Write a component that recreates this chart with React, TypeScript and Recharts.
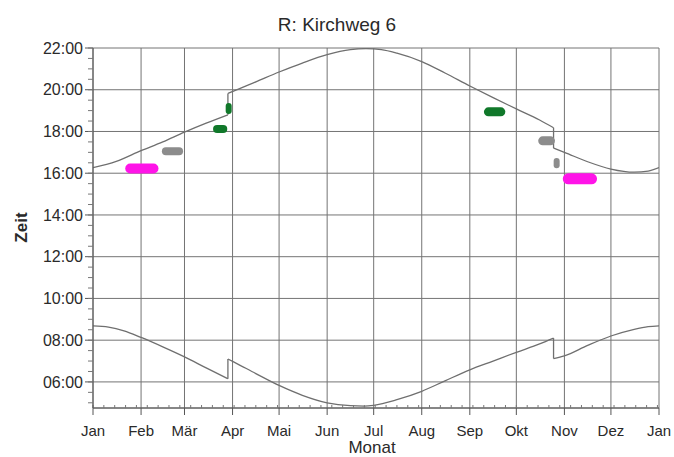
import React from "react";
import { ComposedChart, Line, XAxis, YAxis, CartesianGrid } from "recharts";

// day of year (0 = 1 Jan) / time in hours
const monthStarts = [0, 31, 59, 90, 120, 151, 181, 212, 243, 273, 304, 334, 365];
const monthLabels = ["Jan", "Feb", "Mär", "Apr", "Mai", "Jun", "Jul", "Aug", "Sep", "Okt", "Nov", "Dez", "Jan"];
const hourTicks = [6, 8, 10, 12, 14, 16, 18, 20, 22];

// sunrise, split at the clock changes
const sunriseWinter1 = [
  { d: 0, t: 8.69 }, { d: 10, t: 8.63 }, { d: 20, t: 8.45 }, { d: 31, t: 8.13 },
  { d: 45, t: 7.68 }, { d: 59, t: 7.2 }, { d: 73, t: 6.67 }, { d: 87, t: 6.15 },
];
const sunriseSummer = [
  { d: 87, t: 7.1 }, { d: 91, t: 6.95 }, { d: 105, t: 6.4 }, { d: 120, t: 5.83 },
  { d: 135, t: 5.36 }, { d: 151, t: 5.0 }, { d: 166, t: 4.86 }, { d: 175, t: 4.84 },
  { d: 181, t: 4.88 }, { d: 196, t: 5.15 }, { d: 212, t: 5.55 }, { d: 227, t: 6.05 },
  { d: 243, t: 6.58 }, { d: 258, t: 7.0 }, { d: 273, t: 7.42 }, { d: 288, t: 7.82 },
  { d: 297, t: 8.1 },
];
const sunriseWinter2 = [
  { d: 297, t: 7.12 }, { d: 304, t: 7.25 }, { d: 319, t: 7.75 }, { d: 334, t: 8.2 },
  { d: 349, t: 8.52 }, { d: 358, t: 8.65 }, { d: 365, t: 8.69 },
];

// sunset
const sunsetWinter1 = [
  { d: 0, t: 16.27 }, { d: 15, t: 16.57 }, { d: 31, t: 17.08 }, { d: 45, t: 17.5 },
  { d: 59, t: 17.97 }, { d: 73, t: 18.4 }, { d: 87, t: 18.8 },
];
const sunsetSummer = [
  { d: 87, t: 19.82 }, { d: 91, t: 19.95 }, { d: 105, t: 20.38 }, { d: 120, t: 20.85 },
  { d: 135, t: 21.28 }, { d: 151, t: 21.68 }, { d: 166, t: 21.92 }, { d: 176, t: 21.97 },
  { d: 186, t: 21.92 }, { d: 196, t: 21.75 }, { d: 212, t: 21.35 }, { d: 227, t: 20.8 },
  { d: 243, t: 20.18 }, { d: 258, t: 19.62 }, { d: 273, t: 19.08 }, { d: 288, t: 18.55 },
  { d: 297, t: 18.18 },
];
const sunsetWinter2 = [
  { d: 297, t: 17.2 }, { d: 304, t: 17.0 }, { d: 319, t: 16.55 }, { d: 334, t: 16.2 },
  { d: 349, t: 16.05 }, { d: 358, t: 16.1 }, { d: 365, t: 16.27 },
];

// shadow periods (start / end)
const shadowMagentaFeb = [{ d: 24, t: 16.23 }, { d: 39, t: 16.23 }];
const shadowGrayFeb = [{ d: 47, t: 17.05 }, { d: 55.5, t: 17.05 }];
const shadowGreenMar = [{ d: 80, t: 18.12 }, { d: 84, t: 18.12 }];
const shadowGreenApr = [{ d: 87.5, t: 18.98 }, { d: 87.5, t: 19.22 }];
const shadowGreenSep = [{ d: 255, t: 18.94 }, { d: 263, t: 18.94 }];
const shadowGrayOct = [{ d: 290, t: 17.55 }, { d: 295, t: 17.55 }];
const shadowGrayOct2 = [{ d: 299, t: 16.38 }, { d: 299, t: 16.58 }];
const shadowMagentaNov = [{ d: 306.5, t: 15.73 }, { d: 321.5, t: 15.73 }];

const MAGENTA = "#ff14e8";
const GRAY = "#8c8c8c";
const GREEN = "#10782a";
const CURVE = "#6f6f6f";
const FONT = "'Liberation Sans', Arial, sans-serif";

const blobs = [
  { data: shadowMagentaFeb, color: MAGENTA, w: 10 },
  { data: shadowGrayFeb, color: GRAY, w: 8 },
  { data: shadowGreenMar, color: GREEN, w: 8 },
  { data: shadowGreenApr, color: GREEN, w: 6 },
  { data: shadowGreenSep, color: GREEN, w: 9 },
  { data: shadowGrayOct, color: GRAY, w: 9 },
  { data: shadowGrayOct2, color: GRAY, w: 6 },
  { data: shadowMagentaNov, color: MAGENTA, w: 11 },
];

const curves = [
  [sunriseWinter1, sunriseSummer, sunriseWinter2],
  [sunsetWinter1, sunsetSummer, sunsetWinter2],
];

const weekTicks = Array.from({ length: 53 }, (_, i) => i * 7);
const halfHourTicks = Array.from({ length: 35 }, (_, i) => 5 + i * 0.5);

const fmtHour = (h: number) => `${String(h).padStart(2, "0")}:00`;
const blank = () => "";

// minor y ticks drawn by hand at the axis line (x = 93)
const MinorYTick = (props: any) => {
  const { y } = props;
  return <line x1={88} x2={93} y1={y} y2={y} stroke="#777" strokeWidth={1} />;
};

export default function App() {
  const segs: any[] = [];
  const jumps: any[] = [];
  curves.forEach((parts, ci) => {
    parts.forEach((p, pi) => {
      segs.push({ key: `c${ci}-${pi}`, data: p });
      if (pi > 0) {
        const prev = parts[pi - 1];
        jumps.push({ key: `j${ci}-${pi}`, data: [prev[prev.length - 1], p[0]] });
      }
    });
  });

  return (
    <div style={{ position: "absolute", left: 0, top: 0, width: 674, height: 457, background: "#fff", fontFamily: FONT }}>
      <div style={{ position: "absolute", left: 0, top: 15, width: 674, textAlign: "center", fontSize: 19, lineHeight: "19px", color: "#2a2a2a" }}>
        R: Kirchweg 6
      </div>
      <div style={{ position: "absolute", left: 272, top: 440, width: 200, textAlign: "center", fontSize: 17, lineHeight: "16px", color: "#2a2a2a" }}>
        Monat
      </div>
      <div
        style={{
          position: "absolute", left: 20.5 - 50, top: 227 - 8.5, width: 100, height: 17,
          textAlign: "center", fontSize: 17, lineHeight: "17px", fontWeight: "bold", color: "#2a2a2a",
          transform: "rotate(-90deg)",
        }}
      >
        Zeit
      </div>
      <ComposedChart width={674} height={457} margin={{ top: 48, right: 15, bottom: 19, left: 0 }}>
        <CartesianGrid stroke="#747474" strokeWidth={1} />
        <XAxis
          dataKey="d"
          type="number"
          domain={[0, 365]}
          ticks={monthStarts}
          interval={0}
          allowDataOverflow
          tickFormatter={(_v: number, i: number) => monthLabels[i]}
          height={30}
          tickSize={7}
          tickMargin={10}
          stroke="#555"
          tick={{ fontSize: 15, fill: "#2a2a2a", fontFamily: FONT }}
        />
        <XAxis
          xAxisId="minor"
          dataKey="d"
          type="number"
          domain={[0, 365]}
          ticks={weekTicks}
          interval={0}
          allowDataOverflow
          mirror
          axisLine={false}
          tickFormatter={blank}
          tickSize={3}
          stroke="#777"
        />
        <YAxis
          yAxisId="minor"
          type="number"
          domain={[4.75, 22]}
          ticks={halfHourTicks}
          interval={0}
          allowDataOverflow
          mirror
          axisLine={false}
          tickLine={false}
          tick={<MinorYTick />}
        />
        <YAxis
          type="number"
          domain={[4.75, 22]}
          ticks={hourTicks}
          interval={0}
          allowDataOverflow
          tickFormatter={fmtHour}
          width={93}
          tickSize={8}
          tickMargin={2}
          stroke="#555"
          tick={{ fontSize: 16, fill: "#2a2a2a", fontFamily: FONT }}
        />
        {segs.map((s) => (
          <Line
            key={s.key}
            data={s.data}
            dataKey="t"
            type="monotoneX"
            stroke={CURVE}
            strokeWidth={1.3}
            dot={false}
            activeDot={false}
            isAnimationActive={false}
          />
        ))}
        {jumps.map((s) => (
          <Line
            key={s.key}
            data={s.data}
            dataKey="t"
            type="linear"
            stroke={CURVE}
            strokeWidth={1.3}
            dot={false}
            activeDot={false}
            isAnimationActive={false}
          />
        ))}
        {blobs.map((b, i) => (
          <Line
            key={`b${i}`}
            data={b.data}
            dataKey="t"
            type="linear"
            stroke={b.color}
            strokeWidth={b.w}
            strokeLinecap="round"
            dot={false}
            activeDot={false}
            isAnimationActive={false}
          />
        ))}
      </ComposedChart>
    </div>
  );
}
